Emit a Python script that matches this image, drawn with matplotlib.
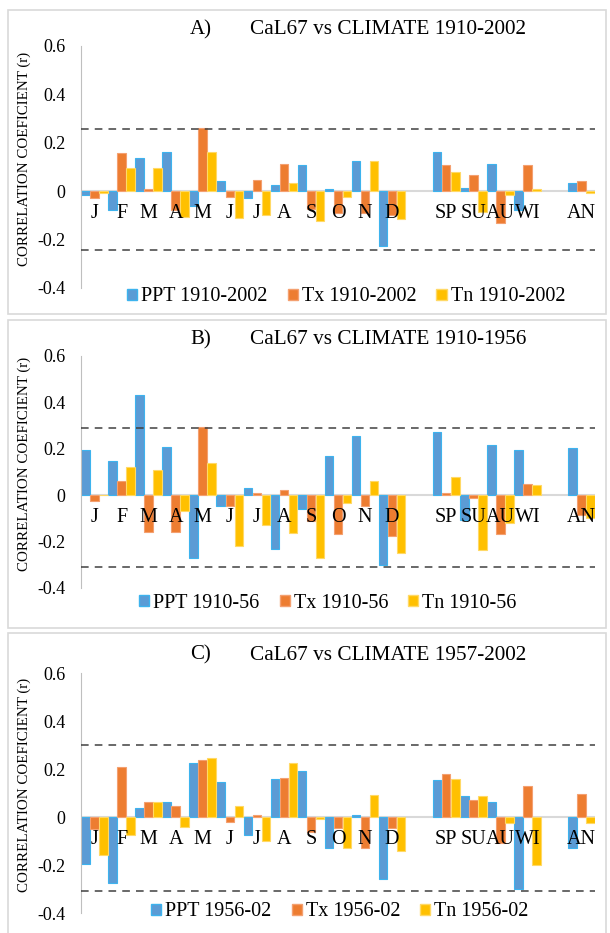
import matplotlib
matplotlib.use("Agg")
import matplotlib.pyplot as plt
import numpy as np
from matplotlib.patches import Rectangle, Patch

plt.rcParams['font.family'] = ['Liberation Serif', 'DejaVu Serif']
plt.rcParams['axes.unicode_minus'] = False

# categories (blank entries are the gaps between months / seasons / annual)
cats = ["J", "F", "M", "A", "M", "J", "J", "A", "S", "O", "N", "D", "",
        "SP", "SU", "AU", "WI", "", "AN"]
nan = np.nan

# A) 1910-2002
ppt_a = [-0.018, -0.078, 0.135, 0.162, -0.063, 0.041, -0.03, 0.025, 0.107, 0.01, 0.124, -0.227, nan,
         0.162, 0.014, 0.113, -0.078, nan, 0.032]
tx_a = [-0.03, 0.158, 0.01, -0.078, 0.26, -0.025, 0.047, 0.113, -0.075, -0.09, -0.09, -0.1, nan,
        0.107, 0.065, -0.133, 0.107, nan, 0.041]
tn_a = [-0.007, 0.096, 0.096, -0.106, 0.162, -0.11, -0.1, 0.032, -0.124, -0.025, 0.124, -0.117, nan,
        0.08, -0.085, -0.017, 0.01, nan, -0.007]
sig_a = (0.257, -0.242)

# B) 1910-1956
ppt_b = [0.196, 0.145, 0.43, 0.208, -0.271, -0.047, 0.03, -0.232, -0.06, 0.168, 0.254, -0.30, nan,
         0.271, -0.108, 0.214, 0.196, nan, 0.202]
tx_b = [-0.026, 0.059, -0.158, -0.158, 0.294, -0.047, 0.007, 0.024, -0.11, -0.168, -0.047, -0.175, nan,
        0.007, -0.013, -0.168, 0.047, nan, -0.085]
tn_b = [0.0, 0.122, 0.108, -0.067, 0.139, -0.219, -0.129, -0.163, -0.271, -0.032, 0.059, -0.248, nan,
        0.076, -0.237, -0.12, 0.042, nan, -0.1]
sig_b = (0.29, -0.31)

# C) 1957-2002
ppt_c = [-0.194, -0.274, 0.036, 0.064, 0.225, 0.147, -0.074, 0.158, 0.192, -0.129, 0.008, -0.257, nan,
         0.153, 0.086, 0.064, -0.30, nan, -0.129]
tx_c = [-0.05, 0.208, 0.064, 0.047, 0.236, -0.019, 0.008, 0.164, -0.063, -0.046, -0.129, -0.046, nan,
        0.18, 0.069, -0.107, 0.13, nan, 0.097]
tn_c = [-0.157, -0.074, 0.064, -0.04, 0.246, 0.047, -0.10, 0.225, -0.007, -0.129, 0.092, -0.14, nan,
        0.158, 0.086, -0.024, -0.20, nan, -0.024]
sig_c = (0.30, -0.31)

W, H = 610, 933
fig = plt.figure(figsize=(W / 100, H / 100), dpi=100)

blue, orange, yellow = "#5B9BD5", "#ED7D31", "#FFC000"
edges = ["#3DB3EE", "#F4A070", "#FFD966"]


def fx(px):
    return px / W


def fy(py):
    return 1 - py / H


panels = [
    dict(letter="A)", title="CaL67 vs CLIMATE 1910-2002", vals=(ppt_a, tx_a, tn_a), sig=sig_a,
         labels=("PPT 1910-2002", "Tx 1910-2002", "Tn 1910-2002"),
         top=45.7, bot=288, ty=30, box=(8, 10, 314), leg=(346, 297)),
    dict(letter="B)", title="CaL67 vs CLIMATE 1910-1956", vals=(ppt_b, tx_b, tn_b), sig=sig_b,
         labels=("PPT 1910-56", "Tx 1910-56", "Tn 1910-56"),
         top=355.7, bot=588, ty=340, box=(8, 320, 628), leg=(328, 603)),
    dict(letter="C)", title="CaL67 vs CLIMATE 1957-2002", vals=(ppt_c, tx_c, tn_c), sig=sig_c,
         labels=("PPT 1956-02", "Tx 1956-02", "Tn 1956-02"),
         top=673, bot=913, ty=655, box=(8, 633, 940), leg=(340, 912)),
]

x = np.arange(len(cats))
bw = 1 / 3

for p in panels:
    # chart-area border
    x0, y0, y1 = p["box"]
    fig.add_artist(Rectangle((fx(x0), fy(y1)), fx(606) - fx(x0), fy(y0) - fy(y1),
                             transform=fig.transFigure, fill=False, ec="#D9D9D9", lw=1.2))

    ax = fig.add_axes([fx(81), fy(p["bot"]), fx(595) - fx(81), (p["bot"] - p["top"]) / H])
    for k, (v, c, ec) in enumerate(zip(p["vals"], (blue, orange, yellow), edges)):
        ax.bar(x + (k - 1) * bw, v, width=bw * 0.95, color=c, edgecolor=ec, linewidth=0.8,
               label=p["labels"][k], zorder=2)
    ax.axhline(0, color="#D9D9D9", lw=1.5, zorder=1)
    for s in p["sig"]:
        ax.axhline(s, color="#404040", lw=1.1, ls=(0, (5, 4)), zorder=3)

    ax.set_xlim(-0.5, len(cats) - 0.5)
    ax.set_ylim(-0.4, 0.6)
    ax.set_yticks([-0.4, -0.2, 0, 0.2, 0.4, 0.6])
    ax.set_yticklabels(["-0.4", "-0.2", "0", "0.2", "0.4", "0.6"], fontsize=13)
    ax.tick_params(axis="y", length=0, pad=11)
    ax.set_xticks([])
    for side in ["top", "right", "bottom"]:
        ax.spines[side].set_visible(False)
    ax.spines["left"].set_color("#BFBFBF")
    ax.patch.set_alpha(0)

    for i, lab in enumerate(cats):
        ax.annotate(lab, (i, 0), xytext=(0, -9.5), textcoords="offset points",
                    ha="center", va="top", fontsize=14.5, zorder=4)

    fig.text(fx(24), fy((p["top"] + p["bot"]) / 2 - 8), "CORRELATION COEFICIENT (r)",
             rotation=90, ha="center", va="center", fontsize=10.8)
    fig.text(fx(190), fy(p["ty"]), p["letter"], ha="left", va="center", fontsize=15)
    fig.text(fx(250), fy(p["ty"]), p["title"], ha="left", va="center", fontsize=15.3)

    handles = [Patch(facecolor=c, edgecolor=ec) for c, ec in zip((blue, orange, yellow), edges)]
    fig.legend(handles, p["labels"], loc="center", bbox_to_anchor=(fx(p["leg"][0]), fy(p["leg"][1])),
               ncol=3, frameon=False, fontsize=14.5, handlelength=0.5, handleheight=0.5,
               handletextpad=0.2, columnspacing=1.0, borderpad=0)

fig.savefig("out.png", dpi=100)
